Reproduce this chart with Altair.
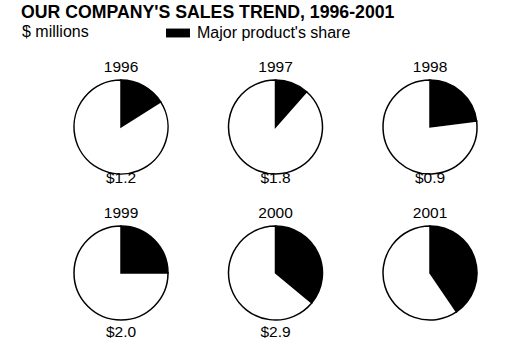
import math
import altair as alt
import pandas as pd

# ---- data ----
years = ["1996", "1997", "1998", "1999", "2000", "2001"]
sales_labels = ["$1.2", "$1.8", "$0.9", "$2.0", "$2.9", ""]   # 2001 label hidden in the reference
major_share = [0.16, 0.115, 0.23, 0.25, 0.36, 0.405]
segments = ["Major product's share", "Other"]

title_text = "OUR COMPANY'S SALES TREND, 1996-2001"
subtitle_text = "$ millions"

# ---- build tables ----
rows = []
for i, (yr, sh) in enumerate(zip(years, major_share)):
    col, row = i % 3, i // 3
    rows.append(dict(year=yr, col=col, row=row, segment=segments[0], start=0.0, end=sh))
    rows.append(dict(year=yr, col=col, row=row, segment=segments[1], start=sh, end=1.0))
pies = pd.DataFrame(rows)

labels = pd.DataFrame(dict(
    year=years,
    sales=sales_labels,
    col=[i % 3 for i in range(len(years))],
    row=[i // 3 for i in range(len(years))],
))

FONT = "Liberation Sans"

xs = alt.Scale(domain=[0, 2], range=[121, 430])
ys = alt.Scale(domain=[0, 1], range=[127, 273])

arcs = alt.Chart(pies).transform_calculate(
    t0="datum.start * 2 * PI", t1="datum.end * 2 * PI"
).mark_arc(radius=47, stroke="black", strokeWidth=1.5).encode(
    x=alt.X("col:Q", scale=xs, axis=None),
    y=alt.Y("row:Q", scale=ys, axis=None),
    theta=alt.Theta("t0:Q", scale=None),
    theta2="t1:Q",
    color=alt.Color(
        "segment:N",
        scale=alt.Scale(domain=segments, range=["black", "white"]),
        legend=alt.Legend(
            values=[segments[0]],
            title=None,
            orient="none",
            legendX=169,
            legendY=24,
            symbolType="M-1.35,-0.5H1.35V0.5H-1.35Z",
            symbolSize=316,
            symbolStrokeWidth=0,
            labelFont=FONT,
            labelFontSize=16,
            labelColor="black",
            labelOffset=10,
            padding=0,
        ),
    ),
)

year_text = alt.Chart(labels).mark_text(
    font=FONT, fontSize=15.5, color="black", dy=-60
).encode(
    x=alt.X("col:Q", scale=xs),
    y=alt.Y("row:Q", scale=ys),
    text="year:N",
)

sales_top = alt.Chart(labels).transform_filter("datum.row == 0").mark_text(
    font=FONT, fontSize=15.5, color="black", dy=51
).encode(
    x=alt.X("col:Q", scale=xs),
    y=alt.Y("row:Q", scale=ys),
    text="sales:N",
)

sales_bottom = alt.Chart(labels).transform_filter("datum.row == 1").mark_text(
    font=FONT, fontSize=15.5, color="black", dy=59
).encode(
    x=alt.X("col:Q", scale=xs),
    y=alt.Y("row:Q", scale=ys),
    text="sales:N",
)

title = alt.Chart(pd.DataFrame({"t": [title_text]})).mark_text(
    font=FONT, fontSize=17.7, fontWeight="bold", align="left", baseline="middle", color="black"
).encode(x=alt.value(21), y=alt.value(13), text="t:N")

subtitle = alt.Chart(pd.DataFrame({"t": [subtitle_text]})).mark_text(
    font=FONT, fontSize=16, align="left", baseline="middle", color="black"
).encode(x=alt.value(22), y=alt.value(32), text="t:N")

chart = alt.layer(arcs, year_text, sales_top, sales_bottom, title, subtitle).properties(
    width=521, height=355, padding=0, autosize=alt.AutoSizeParams(type="none"),
    background="white",
).configure_view(stroke=None)

chart.save("out.html", embed_options={"renderer": "svg", "actions": False})
